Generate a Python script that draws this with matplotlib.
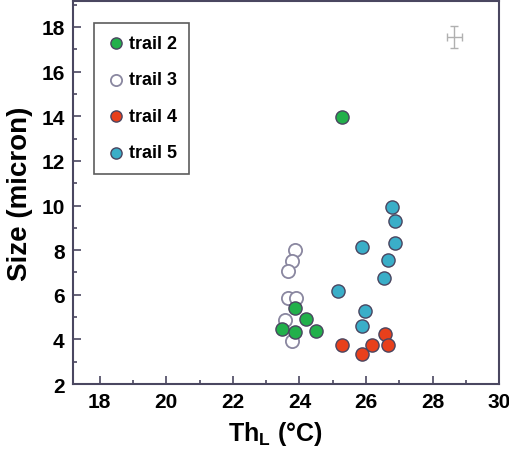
import matplotlib
matplotlib.use("Agg")
import matplotlib.pyplot as plt
from matplotlib.ticker import MultipleLocator

plt.rcParams['font.family'] = ['Liberation Sans', 'DejaVu Sans']
plt.rcParams['mathtext.fontset'] = 'custom'
plt.rcParams['mathtext.rm'] = 'Liberation Sans:bold'
plt.rcParams['mathtext.bf'] = 'Liberation Sans:bold'
plt.rcParams['mathtext.it'] = 'Liberation Sans:bold'

# data
trail2_x = [25.29, 23.87, 24.19, 23.47, 23.87, 24.49]
trail2_y = [13.96, 5.41, 4.91, 4.47, 4.35, 4.36]
trail3_x = [23.87, 23.77, 23.67, 23.65, 23.90, 23.57, 23.77]
trail3_y = [8.02, 7.53, 7.05, 5.86, 5.86, 4.88, 3.94]
trail4_x = [25.27, 25.87, 26.17, 26.57, 26.67]
trail4_y = [3.76, 3.35, 3.75, 4.24, 3.76]
trail5_x = [26.77, 26.87, 26.87, 26.67, 26.55, 25.87, 25.17, 25.97, 25.87]
trail5_y = [9.92, 9.32, 8.31, 7.57, 6.75, 8.13, 6.18, 5.29, 4.61]
err_x, err_y = [28.65], [17.55]
err_dx, err_dy = [0.22], [0.5]

x_ticks = [18, 20, 22, 24, 26, 28, 30]
y_ticks = [2, 4, 6, 8, 10, 12, 14, 16, 18]

fig = plt.figure(figsize=(5.10, 4.52), dpi=100)
ax = fig.add_axes([0.143, 0.148, 0.836, 0.848])

spine_c = '#4a4760'
edge_c = '#4a4560'
s = 90
ax.scatter(trail2_x, trail2_y, s=s, c='#22b04b', edgecolors=edge_c, linewidths=1.0, label='trail 2', zorder=3)
ax.scatter(trail3_x, trail3_y, s=s, c='white', edgecolors='#8a87a0', linewidths=1.3, label='trail 3', zorder=2)
ax.scatter(trail4_x, trail4_y, s=s, c='#e8401c', edgecolors=edge_c, linewidths=1.0, label='trail 4', zorder=3)
ax.scatter(trail5_x, trail5_y, s=s, c='#3aaec8', edgecolors=edge_c, linewidths=1.0, label='trail 5', zorder=3)

ax.errorbar(err_x, err_y, xerr=err_dx, yerr=err_dy, fmt='none', ecolor='#b0b0b0',
            elinewidth=1.0, capsize=3, capthick=1.0)

ax.set_xlim(17.2, 30)
ax.set_ylim(2, 19.17)
ax.set_xticks(x_ticks)
ax.set_yticks(y_ticks)
ax.xaxis.set_minor_locator(MultipleLocator(1))
ax.yaxis.set_minor_locator(MultipleLocator(1))
ax.tick_params(which='both', direction='in', color=spine_c, width=1.2)
ax.tick_params(which='major', length=6, labelsize=15, pad=6)
ax.tick_params(which='minor', length=3)
ax.tick_params(top=False, right=False, which='both')
for lab in ax.get_xticklabels() + ax.get_yticklabels():
    lab.set_fontweight('bold')
for sp in ax.spines.values():
    sp.set_color(spine_c)
    sp.set_linewidth(1.5)

ax.set_xlabel(r'Th$_{\mathbf{L}}$ (°C)', fontsize=18, fontweight='bold', labelpad=4)
ax.xaxis.set_label_coords(0.474, -0.09)
ax.set_ylabel('Size (micron)', fontsize=20, fontweight='bold', labelpad=6)

leg = ax.legend(loc='upper left', bbox_to_anchor=(0.049, 0.943), frameon=True,
                fancybox=False, prop={'size': 13, 'weight': 'bold'},
                markerscale=0.85, handletextpad=0.15, labelspacing=1.08,
                borderpad=0.68, handlelength=1.1, borderaxespad=0)
leg.get_frame().set_edgecolor('#333333')
leg.get_frame().set_linewidth(1.2)

fig.savefig('out.png', dpi=100)
